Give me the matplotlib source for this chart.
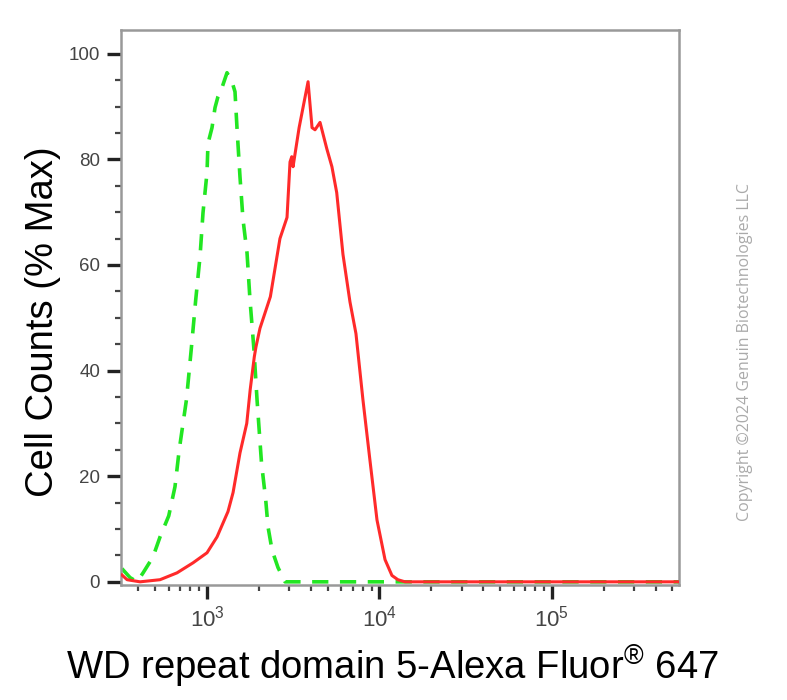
import matplotlib
matplotlib.use('Agg')
import matplotlib.pyplot as plt
from matplotlib.ticker import LogLocator, NullFormatter, MultipleLocator

# isotype control (green dashed)
ctrl_x = [321, 358, 393, 426, 486, 534, 600, 652, 690, 760, 810, 860, 911, 948,
          1000, 1013, 1069, 1113, 1158, 1222, 1306, 1396, 1453, 1492, 1553, 1617,
          1706, 1775, 1871, 1950, 2070, 2190, 2258, 2383, 2580, 2833, 5000, 20000,
          100000, 545000]
ctrl_y = [2.5, 0.8, 0.0, 1.7, 4.7, 8.5, 12.5, 18, 25, 34.5, 44, 53.4, 61.6, 69.9,
          77.5, 83, 86, 89.8, 91.9, 93.6, 96.4, 94.7, 92.8, 86, 76.7, 68.6,
          62.3, 53.4, 44, 34.5, 22.5, 15.5, 10.4, 6, 2.7, 0.0, 0.0, 0.0,
          0.0, 0.0]

# WDR5 stained sample (red solid)
wdr_x = [321, 344, 409, 534, 670, 830, 1000, 1143, 1323, 1416, 1553, 1700, 1780,
         1880, 1923, 2028, 2330, 2648, 2910, 3029, 3100, 3154, 3420, 3854, 4064,
         4230, 4522, 4950, 5300, 5650, 6142, 6744, 7305, 8017, 8806, 9675, 10770,
         11810, 12790, 14050, 50000, 200000, 545000]
wdr_y = [1.3, 0.4, 0.0, 0.4, 1.7, 3.6, 5.5, 8.5, 13.3, 16.9, 24.4, 30, 36.4,
         42.6, 44.5, 48, 54, 65, 69, 79.5, 80.5, 78.6, 86, 94.7, 86,
         85.6, 87, 82, 78.6, 73.7, 62, 53, 47, 34.5, 23, 11.7, 4.2,
         1.2, 0.4, 0.0, 0.0, 0.0, 0.0]

yticks = [0, 20, 40, 60, 80, 100]
xtick_vals = [1e3, 1e4, 1e5]
xtick_labels = [r'$10^3$', r'$10^4$', r'$10^5$']

plt.rcParams['font.family'] = ['Liberation Sans', 'DejaVu Sans']
plt.rcParams['mathtext.fontset'] = 'custom'
plt.rcParams['mathtext.rm'] = 'Liberation Sans'

fig = plt.figure(figsize=(7.87, 7.0), dpi=100)
ax = fig.add_axes([0.1537, 0.1643, 0.7090, 0.7929])

ax.plot(ctrl_x, ctrl_y, color='#22e622', lw=2.6, dashes=(4.5, 3.2), zorder=2)
ax.plot(wdr_x, wdr_y, color='#ff2a2a', lw=2.2, zorder=3)

ax.set_xscale('log')
ax.set_xlim(317, 5.45e5)
ax.set_ylim(-0.6, 104.5)

ax.set_xticks(xtick_vals)
ax.set_xticklabels(xtick_labels)
ax.xaxis.set_minor_locator(LogLocator(base=10, subs=range(2, 10), numticks=20))
ax.xaxis.set_minor_formatter(NullFormatter())
ax.set_yticks(yticks)
ax.yaxis.set_minor_locator(MultipleLocator(5))

ax.tick_params(axis='both', which='major', direction='out', length=10, width=2.4,
               color='#222222', labelsize=13.5, labelcolor='#444444')
ax.tick_params(axis='x', which='major', labelsize=16, pad=5)
ax.tick_params(axis='both', which='minor', direction='out', length=4.5, width=1.6,
               color='#444444')
ax.tick_params(axis='y', which='major', pad=5)

for s in ax.spines.values():
    s.set_color('#999999')
    s.set_linewidth(1.8)

ax.set_ylabel('Cell Counts (% Max)', fontsize=27.5, color='black')
ax.set_xlabel(r'WD repeat domain 5-Alexa Fluor$^{\circledR}$ 647', fontsize=27.5,
              color='black')
ax.yaxis.set_label_coords(-0.108, 0.474)
ax.xaxis.set_label_coords(0.486, -0.105)

fig.text(0.947, 0.497, 'Copyright \u00a92024 Genuin Biotechnologies LLC',
         rotation=90, ha='center', va='center', fontsize=11.5, color='#aaaaaa',
         family=['Open Sans', 'DejaVu Sans'])

fig.savefig('out.png', dpi=100)
